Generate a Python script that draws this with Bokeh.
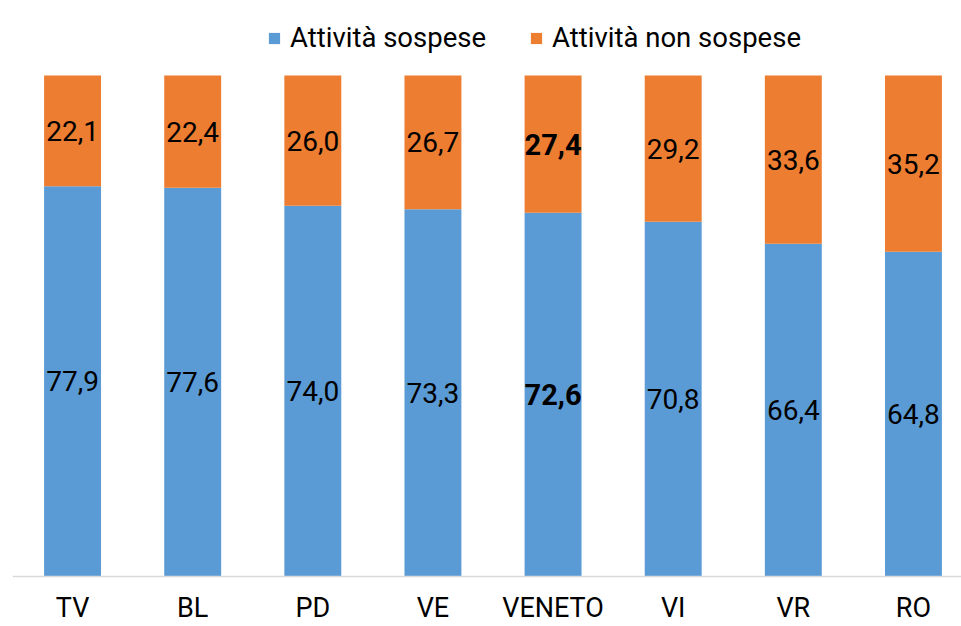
from bokeh.plotting import figure
from bokeh.models import ColumnDataSource, Range1d, Span
from bokeh.core.properties import value
from bokeh.embed import file_html
from bokeh.resources import INLINE

categories = ["TV", "BL", "PD", "VE", "VENETO", "VI", "VR", "RO"]
sospese = [77.9, 77.6, 74.0, 73.3, 72.6, 70.8, 66.4, 64.8]
non_sospese = [22.1, 22.4, 26.0, 26.7, 27.4, 29.2, 33.6, 35.2]
highlight = "VENETO"

BLUE = "#5B9BD5"
ORANGE = "#ED7D31"
FONT = "Roboto"

xs = list(range(len(categories)))
src = ColumnDataSource(dict(x=xs, sospese=sospese, non_sospese=non_sospese))

p = figure(width=961, height=626, output_backend="svg", toolbar_location=None,
           x_range=Range1d(-0.5, 7.4), y_range=Range1d(-9.98, 114.97),
           min_border_left=12, min_border_right=0, min_border_top=0, min_border_bottom=0)
p.outline_line_color = None
p.xgrid.visible = False
p.ygrid.visible = False
p.xaxis.visible = False
p.yaxis.visible = False
p.background_fill_color = "white"

p.vbar_stack(["sospese", "non_sospese"], x="x", width=0.474, source=src,
             color=[BLUE, ORANGE], line_color=None,
             legend_label=["Attività sospese", "Attività non sospese"])

base = Span(location=0, dimension="width", line_color="#D9D9D9", line_width=1.5)
p.add_layout(base)

# data labels
def lab_src(idx_list, ys, vals):
    return ColumnDataSource(dict(
        x=[xs[i] for i in idx_list],
        y=[ys[i] for i in idx_list],
        t=[("%.1f" % vals[i]).replace(".", ",") for i in idx_list]))

blue_y = [v / 2 for v in sospese]
orange_y = [a + b / 2 for a, b in zip(sospese, non_sospese)]
normal = [i for i, c in enumerate(categories) if c != highlight]
bold = [i for i, c in enumerate(categories) if c == highlight]

for ys, vals in ((blue_y, sospese), (orange_y, non_sospese)):
    p.text(x="x", y="y", text="t", source=lab_src(normal, ys, vals),
           text_font=value(FONT), text_font_size="28px", text_color="#000000",
           text_align="center", text_baseline="middle")
    p.text(x="x", y="y", text="t", source=lab_src(bold, ys, vals),
           text_font=value(FONT), text_font_size="29px", text_font_style="bold",
           text_color="#000000", text_align="center", text_baseline="middle")

# category labels
cat_src = ColumnDataSource(dict(x=xs, y=[-6.3] * len(xs), t=categories))
p.text(x="x", y="y", text="t", source=cat_src, text_font=value(FONT),
       text_font_size="27px", text_color="#000000",
       text_align="center", text_baseline="middle")

lg = p.legend[0]
lg.orientation = "horizontal"
lg.location = (255, 572)
lg.glyph_width = 14
lg.glyph_height = 14
lg.label_standoff = 9
lg.spacing = 43
lg.padding = 0
lg.margin = 0
lg.border_line_color = None
lg.background_fill_alpha = 0
lg.label_text_font = FONT
lg.label_text_font_size = "27.5px"
lg.label_text_color = "#000000"

open("out.html", "w").write(file_html(p, INLINE))
